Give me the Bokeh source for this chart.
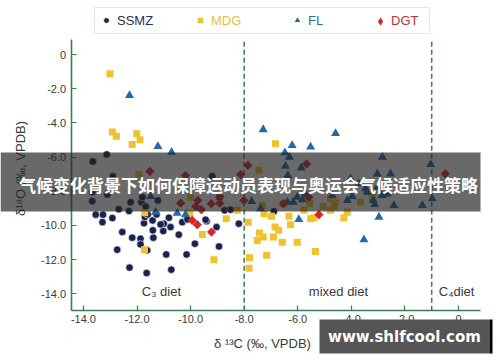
import numpy as np
from bokeh.plotting import figure
from bokeh.models import Range1d, FixedTicker, Label, BoxAnnotation, Legend, LegendItem
from bokeh.embed import file_html
from bokeh.resources import INLINE

# ---------------- data (delta13C, delta18O) ----------------
ssmz_x = [-13.65, -13.13, -12.90, -13.67, -13.11, -13.67, -11.84, -11.80, -11.22, -13.54,
          -13.27, -13.29, -12.92, -12.68, -12.30, -11.68, -12.55, -12.18, -11.87, -11.87,
          -11.62, -11.39, -11.41, -11.02, -11.00, -10.81, -10.75, -10.44, -10.91, -12.74,
          -12.28, -11.64, -10.72, -10.15, -9.84, -10.31, -11.74, -11.42, -9.03, -8.94,
          -9.40, -8.20, -8.73, -8.51, -9.19, -8.92, -6.89, -9.44, -12.24, -10.12,
          -11.12, -11.71, -11.60, -11.27]
ssmz_y = [-6.26, -5.85, -7.13, -8.05, -8.19, -8.58, -8.64, -8.35, -8.54, -9.37,
          -9.37, -9.81, -9.57, -9.06, -9.16, -8.89, -10.39, -10.72, -10.78, -11.11,
          -11.46, -10.72, -10.29, -10.33, -9.90, -9.55, -10.10, -10.54, -11.70, -11.42,
          -12.47, -12.79, -12.59, -11.70, -11.07, -9.81, -9.87, -9.71, -10.10, -11.23,
          -9.75, -9.90, -9.12, -9.08, -7.13, -8.35, -9.18, -9.67, -8.64, -9.65,
          -9.94, -9.51, -9.36, -9.36]

mdg_x = [-13.01, -12.92, -12.77, -12.01, -12.18, -11.89, -11.93, -10.00, -10.03, -11.71,
         -11.72, -9.56, -9.13, -8.67, -8.26, -7.85, -7.80, -7.82, -7.43, -7.51,
         -7.29, -7.26, -6.33, -6.27, -6.85, -6.91, -6.71, -6.58, -6.02, -5.34,
         -7.16, -5.77, -5.52, -4.78, -4.65, -4.28, -4.15, -5.05, -6.52, -5.55,
         -6.83, -7.45, -7.32, -6.98, -4.78, -4.59, -3.66, -3.22, -5.40]
mdg_y = [-1.13, -4.54, -4.78, -4.64, -5.26, -4.99, -7.02, -8.35, -9.28, -9.26,
         -11.42, -10.53, -12.01, -9.61, -9.12, -9.81, -11.89, -12.50, -10.45, -10.88,
         -10.68, -9.32, -9.46, -9.96, -10.10, -10.68, -10.29, -10.98, -10.98, -11.52,
         -11.75, -9.12, -9.61, -9.12, -8.89, -9.57, -9.22, -8.89, -8.73, -8.73,
         -5.22, -6.78, -8.83, -9.46, -8.44, -8.64, -8.64, -8.35, -9.55]

fl_x = [-12.28, -11.22, -10.71, -11.49, -11.31, -10.50, -10.19, -7.29, -6.21, -5.52,
        -4.59, -6.48, -6.31, -6.46, -5.87, -6.37, -2.84, -3.03, -2.54, -1.04,
        -7.72, -7.39, -6.17, -6.39, -6.02, -5.83, -5.71, -5.96, -4.71, -4.15,
        -3.97, -3.41, -3.18, -3.13, -2.85, -2.41, -1.35, -2.97, -3.53, -4.03,
        -3.72, -3.47, -3.03, -2.66, -0.98]
fl_y = [-2.40, -5.38, -5.71, -8.30, -9.22, -9.28, -9.37, -4.39, -5.32, -5.41,
        -4.62, -5.75, -6.01, -6.53, -6.63, -7.08, -6.01, -6.98, -6.98, -6.43,
        -8.60, -9.02, -8.64, -8.64, -8.35, -8.50, -8.15, -9.65, -8.25, -8.54,
        -8.30, -8.05, -8.54, -8.77, -8.25, -8.83, -8.83, -9.51, -10.84, -7.27,
        -7.56, -7.85, -7.76, -8.15, -8.44]

dgt_x = [-11.52, -10.19, -10.37, -9.73, -9.81, -9.60, -9.23, -8.91, -9.94, -9.75,
         -9.22, -8.01, -8.13, -7.86, -5.67, -6.54, -5.59, -5.21, -0.49, -8.91]
dgt_y = [-6.84, -7.08, -8.70, -8.54, -8.89, -9.08, -8.73, -8.30, -9.71, -9.96,
         -10.39, -8.54, -7.02, -6.49, -6.40, -8.73, -8.35, -9.37, -6.98, -8.70]

series_names = ["SSMZ", "MDG", "FL", "DGT"]
diet_bounds = [-8.0, -1.0]
diet_labels = ["C\u2083 diet", "mixed diet", "C\u2084diet"]

x_ticks = [-14, -12, -10, -8, -6, -4, -2, 0]
x_tick_labels = ["-14.0", "-12.0", "-10.0", "-8.0", "-6.0", "-4.0", "-2.0", "0"]
y_ticks = [0, -2, -4, -6, -8, -10, -12, -14]
y_tick_labels = ["0", "-2.0", "-4.0", "-6.0", "-8.0", "-10.0", "-12.0", "-14.0"]

banner_text = "气候变化背景下如何保障运动员表现与奥运会气候适应性策略"
watermark_text = "www.shlfcool.com"

# ---------------- style ----------------
GREEN = "#3a7d5a"
C_SSMZ = "#1c2250"
C_MDG = "#f2c12e"
C_FL = "#2468a4"
C_DGT = "#d8262c"
TXT = "#3a3a3a"
FONT = "Liberation Sans"

X_MIN, X_MAX = -14.46, 0.82   # axis extents
Y_MIN, Y_MAX = -15.0, 0.85

# the frame covers the whole canvas; axes are pinned with fixed_location
p = figure(width=500, height=362,
           x_range=Range1d(-17.096, 1.568), y_range=Range1d(-18.022, 3.160),
           output_backend="svg", toolbar_location=None, title=None,
           min_border=0, min_border_left=0, min_border_right=0,
           min_border_top=0, min_border_bottom=0)
p.outline_line_color = None
p.xgrid.visible = False
p.ygrid.visible = False
p.background_fill_color = "white"
p.border_fill_color = "white"

for ax, ticks, labels in ((p.xaxis[0], x_ticks, x_tick_labels), (p.yaxis[0], y_ticks, y_tick_labels)):
    ax.ticker = FixedTicker(ticks=ticks)
    ax.major_label_overrides = {t: l for t, l in zip(ticks, labels)}
    ax.axis_line_color = GREEN
    ax.axis_line_width = 1.6
    ax.major_tick_line_color = GREEN
    ax.major_tick_line_width = 1.2
    ax.major_tick_in = 5
    ax.major_tick_out = 0
    ax.minor_tick_line_color = None
    ax.major_label_text_font = FONT
    ax.major_label_text_font_size = "11px"
    ax.major_label_text_color = TXT
    ax.major_label_standoff = 4
p.xaxis[0].fixed_location = Y_MIN
p.xaxis[0].bounds = (X_MIN, X_MAX)
p.yaxis[0].fixed_location = X_MIN
p.yaxis[0].bounds = (Y_MIN, Y_MAX)
p.yaxis[0].major_label_standoff = 5

# dashed diet boundaries
p.segment(x0=diet_bounds, y0=[Y_MIN, Y_MIN], x1=diet_bounds, y1=[Y_MAX, Y_MAX],
          line_color=GREEN, line_width=1.5, line_dash="5 3")

r1 = p.scatter(ssmz_x, ssmz_y, marker="circle", size=7.5, fill_color=C_SSMZ,
               line_color="white", line_width=0.6)
r2 = p.scatter(mdg_x, mdg_y, marker="square", size=7, fill_color=C_MDG, line_color=None)
r3 = p.scatter(fl_x, fl_y, marker="triangle", size=9, fill_color=C_FL, line_color=None)
# diamond glyph (fully hidden under the rotated squares) provides the legend symbol
r4_leg = p.scatter(dgt_x, dgt_y, marker="diamond", size=8, fill_color=C_DGT, line_color=None)
r4 = p.scatter(dgt_x, dgt_y, marker="square", angle=np.pi / 4, size=6.5,
               fill_color=C_DGT, line_color=None)

# legend (one per item so each label gets its own colour)
legend_text_colors = ["#2b2f4f", "#e6bf45", "#2f6ea3", "#c8303a"]
legend_x = [99, 193, 290, 370]
legend_glyph = [14, 14, 14, 20]
legend_standoff = [4, 4, 4, 1]
for name, r, col, lx, gs, so in zip(series_names, [r1, r2, r3, r4_leg], legend_text_colors,
                                     legend_x, legend_glyph, legend_standoff):
    leg = Legend(items=[LegendItem(label=name, renderers=[r])],
                 location=(lx, 341.5 - gs / 2),
                 orientation="horizontal", glyph_width=gs, glyph_height=gs, label_height=gs,
                 label_standoff=so, padding=0, margin=0, spacing=0,
                 border_line_color=None, background_fill_alpha=0,
                 label_text_font=FONT, label_text_font_size="13px", label_text_color=col)
    p.add_layout(leg)
p.add_layout(BoxAnnotation(left=94, right=429, top=355, bottom=329,
                           left_units="screen", right_units="screen",
                           top_units="screen", bottom_units="screen",
                           fill_alpha=0, line_color="#9db8aa", line_width=1.2))

# diet region labels
for txt, lx in zip(diet_labels, [-11.09, -4.48, -0.07]):
    p.add_layout(Label(x=lx, y=-13.84, text=txt, text_align="center", text_baseline="middle",
                       text_font=FONT, text_font_size="13px", text_color=TXT))

# axis titles
p.add_layout(Label(x=262, y=19, x_units="screen", y_units="screen",
                   text="\u03b4 \u00b9\u00b3C (\u2030, VPDB)", text_align="center",
                   text_baseline="middle", text_font=FONT, text_font_size="13px", text_color=TXT))
p.add_layout(Label(x=20, y=194, x_units="screen", y_units="screen", angle=np.pi / 2,
                   text="\u03b4\u00b9\u2078O (\u2030, VPDB)", text_align="center",
                   text_baseline="middle", text_font=FONT, text_font_size="13px", text_color=TXT))

# overlay banner
p.add_layout(BoxAnnotation(left=0, right=480, top=210, bottom=151,
                           left_units="screen", right_units="screen",
                           top_units="screen", bottom_units="screen",
                           fill_color="#222222", fill_alpha=0.68, line_color=None, level="overlay"))
p.add_layout(Label(x=248, y=178, x_units="screen", y_units="screen", text=banner_text,
                   text_align="center", text_baseline="middle", text_font="Noto Sans CJK SC",
                   text_font_style="bold", text_font_size="17px", text_color="white",
                   level="overlay"))

# watermark
p.add_layout(BoxAnnotation(left=319, right=489, top=43, bottom=9,
                           left_units="screen", right_units="screen",
                           top_units="screen", bottom_units="screen",
                           fill_color="#555555", fill_alpha=1, line_color=None, level="overlay"))
p.add_layout(BoxAnnotation(left=489, right=492, top=43, bottom=9,
                           left_units="screen", right_units="screen",
                           top_units="screen", bottom_units="screen",
                           fill_color="#000000", fill_alpha=1, line_color=None, level="overlay"))
p.add_layout(Label(x=404, y=25.5, x_units="screen", y_units="screen", text=watermark_text,
                   text_align="center", text_baseline="middle", text_font="DejaVu Sans",
                   text_font_style="bold", text_font_size="15px", text_color="white",
                   level="overlay"))

open("out.html", "w").write(file_html(p, INLINE))
